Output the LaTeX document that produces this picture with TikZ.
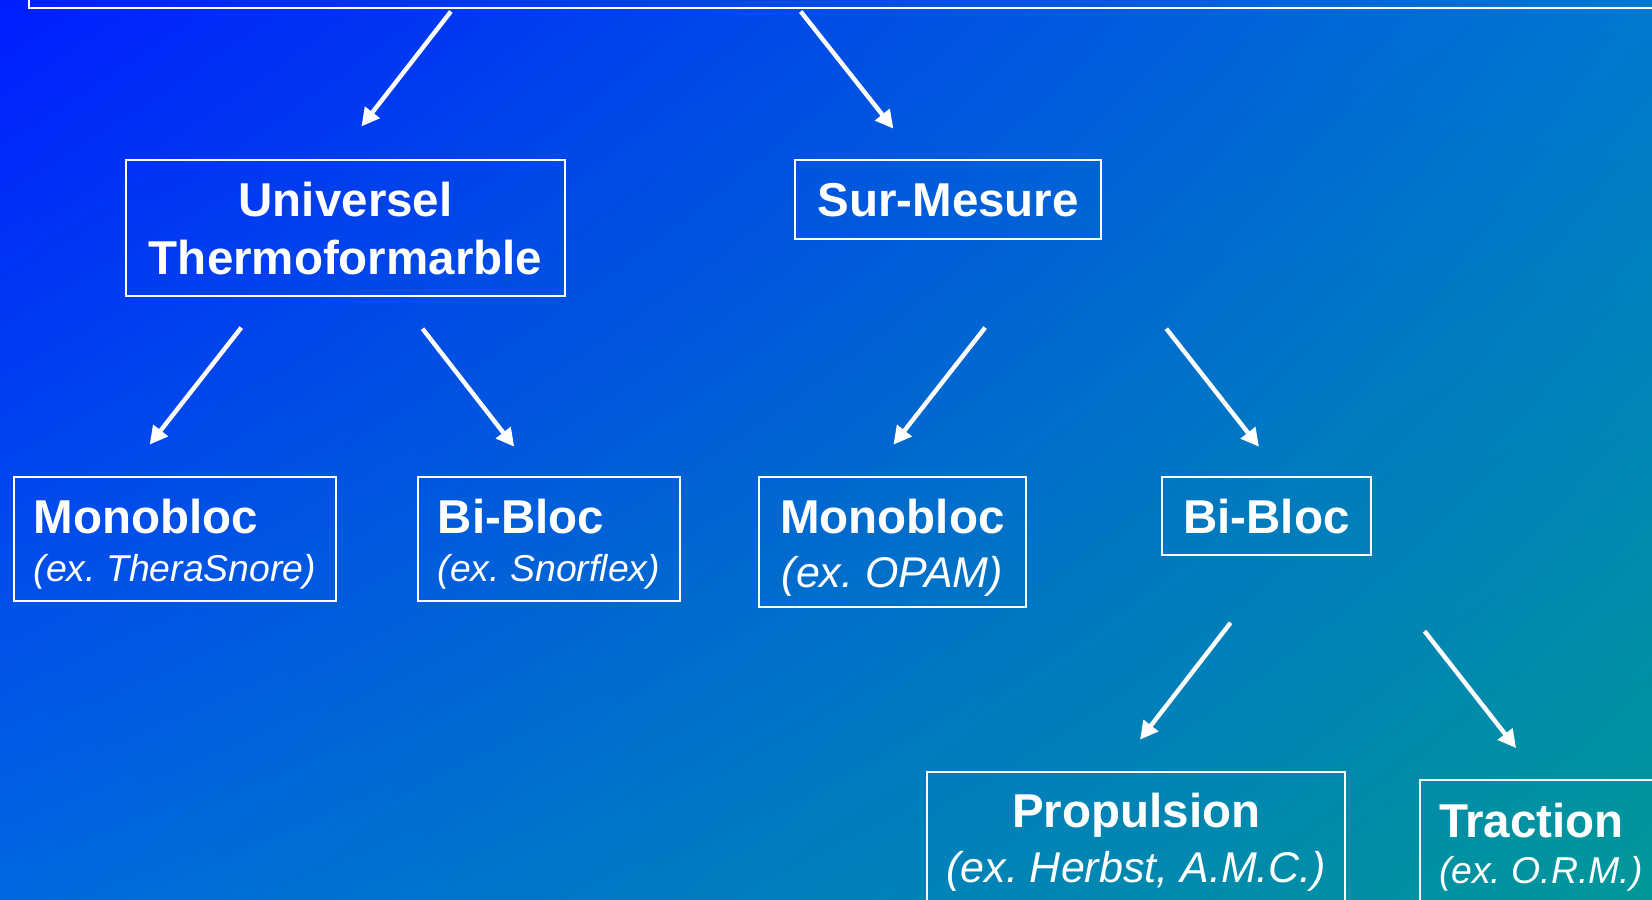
\documentclass[tikz,border=0pt]{standalone}
\usepackage{fontspec}
\setmainfont{Liberation Sans}
\usetikzlibrary{arrows.meta,calc,positioning,shadings}
\definecolor{fondHG}{RGB}{0,30,255}
\definecolor{fondHD}{RGB}{0,120,208}
\definecolor{fondBG}{RGB}{0,104,224}
\definecolor{fondBD}{RGB}{0,152,152}
\newcommand{\exemple}[2][18.7]{{\mdseries\itshape\fontsize{#1}{23}\selectfont #2}}
\newcommand{\haut}[1]{\rule{0pt}{#1}}
\frenchspacing

\begin{document}
\begin{tikzpicture}[
    x=0.5pt, y=-0.5pt,
    font=\bfseries\fontsize{23.75}{26}\selectfont,
    boite/.style={draw=white, line width=1pt, text=white, inner sep=0pt,
                  align=center},
    fleche/.style={-{Triangle[length=9pt,width=9pt]}, line width=2.2pt, white}
]
\useasboundingbox (0,0) rectangle (1652,899);
\shade[upper left=fondHG, upper right=fondHD, lower left=fondBG,
       lower right=fondBD] (0,0) rectangle (1652,899);
\clip (0,0) rectangle (1652,899);
% niveau 0 (coupe en haut)
\node[boite, minimum width=850pt, minimum height=65pt] (orthese) at (878.5,-56.5) {};
% niveau 1
\node[boite, minimum width=219.2pt, minimum height=68pt] (universel) at (345.6,228.1)
    {Universel\\[3pt]Thermoformarble};
\node[boite, minimum width=152.8pt, minimum height=39.5pt] (surmesure) at (948.2,199.7)
    {Sur-Mesure};
% niveau 2
\node[boite, align=left, minimum width=161.2pt, minimum height=61.7pt] (mono1) at (174.9,538.9)
    {\haut{22.6pt}Monobloc\\[-2.1pt]\exemple{(ex. TheraSnore)}};
\node[boite, align=left, minimum width=130.7pt, minimum height=61.7pt] (bi1) at (548.9,538.9)
    {\haut{22.6pt}Bi-Bloc\\[-2.1pt]\exemple{(ex. Snorflex)}};
\node[boite, minimum width=133.8pt, minimum height=64.8pt] (mono2) at (892.4,542.1)
    {\haut{22.6pt}Monobloc\\[1pt]\exemple[21.5]{(ex. OPAM)}};
\node[boite, minimum width=104.3pt, minimum height=39pt] (bi2) at (1266.4,516.3)
    {Bi-Bloc};
% niveau 3
\node[boite, minimum width=209.1pt, minimum height=68pt] (propulsion) at (1136.3,840.3)
    {\haut{18.9pt}Propulsion\\[1.3pt]\exemple[21.5]{(ex. Herbst, A.M.C.)}};
\node[boite, align=left, minimum width=120.5pt, minimum height=67.5pt] (traction) at (1540.8,847.2)
    {Traction\\[-2.6pt]\exemple{(ex. O.R.M.)}};
% fleches
\draw[fleche] ($(orthese.south)+(-427.6,2)$) -- ($(universel.north)+(15.8,-32.6)$);
\draw[fleche] ($(orthese.south)+(-77.8,2)$) -- ($(surmesure.north)+(-54.8,-30.5)$);
\draw[fleche] ($(universel.south)+(-104.3,30.5)$) -- ($(mono1.north)+(-25.3,-31.6)$);
\draw[fleche] ($(universel.south)+(76.9,31.6)$) -- ($(bi1.north)+(-34.7,-29.5)$);
\draw[fleche] ($(surmesure.south)+(36.9,87.4)$) -- ($(mono2.north)+(1,-31.6)$);
\draw[fleche] ($(surmesure.south)+(218.1,88.5)$) -- ($(bi2.north)+(-7.4,-29.5)$);
\draw[fleche] ($(bi2.south)+(-35.8,66.4)$) -- ($(propulsion.north)+(3.7,-31.6)$);
\draw[fleche] ($(bi2.south)+(158.1,74.8)$) -- ($(traction.north)+(-24.7,-30.6)$);
\end{tikzpicture}
\end{document}
